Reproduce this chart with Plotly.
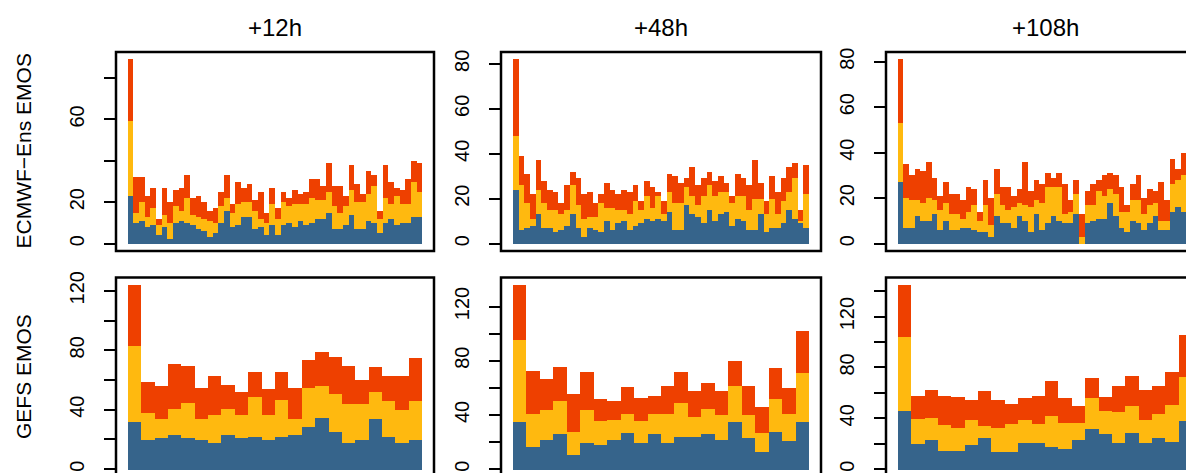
import plotly.graph_objects as go

# ---------------- data (counts per rank bin, stacked) ----------------
col_titles = ["+12h", "+48h", "+108h"]
row_titles = ["ECMWF\u2212Ens EMOS", "GEFS EMOS"]

ecmwf_12h_blue = [23,10,11,8,9,4,8,2,10,11,10,9,7,6,3,5,10,16,8,9,13,13,7,8,4,9,4,9,10,8,11,9,10,12,12,15,7,7,9,14,7,7,11,10,5,10,12,9,10,10,13,13]
ecmwf_12h_yellow = [36,5,9,5,8,5,6,8,8,5,12,5,6,6,8,5,8,6,7,10,7,7,9,4,6,10,8,11,8,11,8,10,12,9,9,10,11,8,9,12,13,13,13,18,7,12,7,14,9,9,17,12]
ecmwf_12h_orange = [30,17,12,10,10,3,13,10,8,11,11,8,10,8,5,7,7,11,4,11,7,9,5,13,5,8,5,5,4,7,5,6,9,10,7,14,10,13,5,12,9,4,11,5,4,16,11,4,7,12,10,14]

ecmwf_48h_blue = [24,6,7,8,13,7,7,5,6,8,13,7,3,7,6,5,10,6,9,10,6,8,9,11,10,11,10,14,6,6,17,13,12,9,15,10,13,14,8,11,10,6,6,13,5,7,7,9,15,11,9,7]
ecmwf_48h_yellow = [24,20,11,3,11,11,8,10,7,7,13,10,8,5,6,13,6,10,6,5,7,11,6,10,6,10,3,9,12,12,8,8,5,12,11,11,10,9,10,10,11,9,14,7,8,13,6,10,8,18,1,15]
ecmwf_48h_orange = [34,13,13,11,13,10,9,8,5,11,6,12,11,11,6,4,11,8,7,9,10,7,4,7,9,2,6,8,12,9,4,13,9,8,6,7,7,4,3,10,8,11,17,7,6,10,10,10,11,7,5,13]

ecmwf_108h_blue = [27,7,7,12,10,10,13,6,10,6,6,7,7,6,5,5,3,12,9,9,7,12,10,5,13,6,9,12,10,9,9,13,0,9,10,11,11,18,12,7,5,10,9,6,9,12,6,6,14,16,14,17]
ecmwf_108h_yellow = [26,13,12,7,8,10,6,9,8,7,7,4,7,11,5,12,5,10,8,6,9,6,7,11,6,12,16,13,15,4,5,9,3,8,7,12,10,6,10,7,9,9,10,7,8,6,4,4,12,12,16,20]
ecmwf_108h_orange = [28,15,11,14,14,16,10,6,9,9,9,8,11,7,4,11,12,11,8,10,5,6,19,7,9,8,6,4,6,13,5,6,10,6,9,5,9,7,8,11,3,7,11,7,7,5,17,9,11,5,10,10]

gefs_12h_blue = [32,20,21,23,21,20,18,23,21,22,20,22,23,29,35,25,18,20,34,22,18,20]
gefs_12h_yellow = [51,18,13,18,24,14,19,18,16,27,17,25,11,26,21,26,26,24,18,24,22,26]
gefs_12h_orange = [41,21,22,30,25,21,26,16,15,17,17,19,21,19,23,25,26,16,17,17,23,29]

gefs_48h_blue = [35,17,22,26,11,20,18,22,27,20,26,20,24,24,26,22,35,23,13,28,21,35]
gefs_48h_yellow = [61,24,22,25,17,24,18,15,14,16,15,21,25,15,19,18,27,17,14,24,20,36]
gefs_48h_orange = [40,32,23,25,28,28,16,14,20,17,13,21,23,19,19,18,18,22,19,23,19,31]

gefs_108h_blue = [46,20,23,15,15,19,25,14,14,21,21,18,16,23,32,28,21,29,21,25,22,38]
gefs_108h_yellow = [58,20,18,20,18,20,9,19,22,18,15,24,21,14,24,18,24,21,18,19,29,35]
gefs_108h_orange = [41,18,22,23,24,16,28,22,16,17,22,28,19,13,16,11,21,24,24,22,26,33]

ecmwf_tickvals = [0, 20, 40, 60, 80]
ecmwf_12h_ticktext = ["0", "20", "", "60", ""]
ecmwf_ticktext = ["0", "20", "40", "60", "80"]
gefs_tickvals = [0, 20, 40, 60, 80, 100, 120]
gefs_108h_tickvals = [0, 20, 40, 60, 80, 100, 120, 140]
gefs_ticktext = ["0", "", "40", "", "80", "", "120"]
gefs_108h_ticktext = ["0", "", "40", "", "80", "", "120", ""]

# ---------------- styling / layout ----------------
PAGE_W, PAGE_H = 1194, 473
OX, OY = 8, 8                       # page body margin around the plot div
FW, FH = PAGE_W - OX, PAGE_H - OY   # figure size so that it ends at the window edge
COLORS = ["#36648B", "#FFB90F", "#EE4000"]
FONT = "Liberation Sans, Arial, Helvetica, sans-serif"

# panel boxes in page pixels
col_box = [(116, 434), (501, 821), (886, 1204)]
row_box = [(52, 251), (277.5, 476.5)]


def fx(p):
    return (p - OX) / FW


def fy(p):
    return 1 - (p - OY) / FH


panels = [
    (0, 0, [ecmwf_12h_blue, ecmwf_12h_yellow, ecmwf_12h_orange], ecmwf_tickvals, ecmwf_12h_ticktext),
    (0, 1, [ecmwf_48h_blue, ecmwf_48h_yellow, ecmwf_48h_orange], ecmwf_tickvals, ecmwf_ticktext),
    (0, 2, [ecmwf_108h_blue, ecmwf_108h_yellow, ecmwf_108h_orange], ecmwf_tickvals, ecmwf_ticktext),
    (1, 0, [gefs_12h_blue, gefs_12h_yellow, gefs_12h_orange], gefs_tickvals, gefs_ticktext),
    (1, 1, [gefs_48h_blue, gefs_48h_yellow, gefs_48h_orange], gefs_tickvals, gefs_ticktext),
    (1, 2, [gefs_108h_blue, gefs_108h_yellow, gefs_108h_orange], gefs_108h_tickvals, gefs_108h_ticktext),
]

fig = go.Figure()
layout = dict(
    template="none",
    width=FW, height=FH, margin=dict(l=0, r=0, t=0, b=0, pad=0, autoexpand=False),
    paper_bgcolor="white", plot_bgcolor="white",
    barmode="stack", bargap=0, showlegend=False,
    font=dict(family=FONT, color="black", size=20),
)
shapes = []
annotations = []

for k, (r, c, series, tv, tt) in enumerate(panels):
    n = len(series[0])
    totals = [sum(v) for v in zip(*series)]
    m = max(totals)
    bx0, bx1 = col_box[c]
    by0, by1 = row_box[r]
    vis_x1 = min(bx1, PAGE_W)
    vis_y1 = min(by1, PAGE_H)
    xlo = -0.04 * n
    xhi = xlo + 1.08 * n * (vis_x1 - bx0) / (bx1 - bx0)
    yhi = 1.04 * m
    ylo = yhi - 1.08 * m * (vis_y1 - by0) / (by1 - by0)

    sfx = "" if k == 0 else str(k + 1)
    xa, ya = "x" + sfx, "y" + sfx
    xs = [i + 0.5 for i in range(n)]
    for s, col in zip(series, COLORS):
        fig.add_trace(go.Bar(x=xs, y=s, width=1.0, marker=dict(color=col, line=dict(width=0)),
                             xaxis=xa, yaxis=ya, hoverinfo="skip"))
    layout["xaxis" + sfx] = dict(domain=[fx(bx0), min(fx(vis_x1), 1.0)], range=[xlo, xhi], visible=False,
                                 anchor=ya, fixedrange=True, automargin=False)
    layout["yaxis" + sfx] = dict(domain=[max(fy(vis_y1), 0.0), fy(by0)], range=[ylo, yhi], anchor=xa,
                                 showgrid=False, zeroline=False, showline=False, automargin=False,
                                 ticks="outside", ticklen=11, tickwidth=2, tickcolor="black",
                                 tickmode="array", tickvals=tv, ticktext=tt, tickangle=-90,
                                 tickfont=dict(family=FONT, size=20, color="black"),
                                 ticklabelstandoff=12, fixedrange=True)
    shapes.append(dict(type="rect", xref="paper", yref="paper",
                       x0=fx(bx0), x1=fx(bx1), y0=fy(by1), y1=fy(by0),
                       line=dict(color="black", width=2.5), fillcolor="rgba(0,0,0,0)", layer="above"))

for c, t in enumerate(col_titles):
    bx0, bx1 = col_box[c]
    annotations.append(dict(text=t, x=fx((bx0 + bx1) / 2), y=fy(27), xref="paper", yref="paper",
                            showarrow=False, xanchor="center", yanchor="middle",
                            font=dict(family=FONT, size=24, color="black")))
for r, t in enumerate(row_titles):
    by0, by1 = row_box[r]
    annotations.append(dict(text=t, x=fx(23), y=fy((by0 + by1) / 2), xref="paper", yref="paper",
                            showarrow=False, xanchor="center", yanchor="middle", textangle=-90,
                            font=dict(family=FONT, size=21, color="black")))

layout["shapes"] = shapes
layout["annotations"] = annotations
fig.update_layout(**layout)
fig.write_html("out.html")
